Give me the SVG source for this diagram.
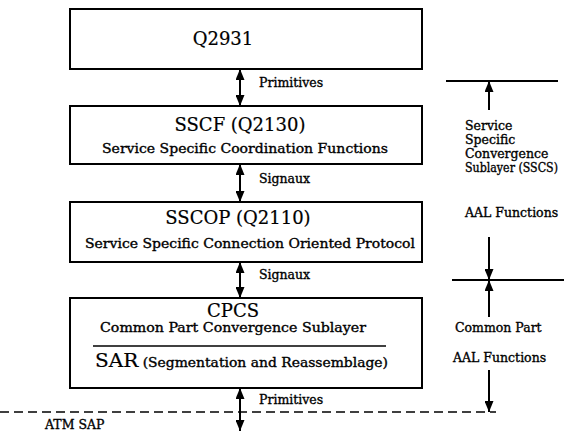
<svg xmlns="http://www.w3.org/2000/svg" width="587" height="431" viewBox="0 0 587 431">
<defs>
<marker id="ah" markerUnits="userSpaceOnUse" markerWidth="11" markerHeight="9" refX="11" refY="4.5" orient="auto-start-reverse">
<path d="M0,0 L11,4.5 L0,9 z" fill="#000"/>
</marker>
<style>
.box{fill:#fff;stroke:#000;stroke-width:2}
.t{font-family:"DejaVu Serif","Liberation Serif",serif;fill:#000}
.big{font-size:18px;stroke:#000;stroke-width:0.2}
.sm{font-size:12.5px;stroke:#000;stroke-width:0.35}
.lb{font-size:12.5px;stroke:#000;stroke-width:0.35}
.ar{stroke:#000;stroke-width:2;fill:none}
.dash{stroke:#000;stroke-width:1.5;stroke-dasharray:9 5;fill:none}
</style>
</defs>
<rect width="587" height="431" fill="#fff"/>

<g id="q2931">
<rect class="box" x="70" y="9" width="352" height="60"/>
<text class="t big" x="223" y="45" text-anchor="middle">Q2931</text>
</g>

<g id="sscf">
<rect class="box" x="70" y="106" width="352" height="58"/>
<text class="t big" x="240" y="131" text-anchor="middle">SSCF (Q2130)</text>
<text class="t sm" x="245" y="153" text-anchor="middle" textLength="286" lengthAdjust="spacingAndGlyphs">Service Specific Coordination Functions</text>
</g>

<g id="sscop">
<rect class="box" x="70" y="202" width="352" height="60"/>
<text class="t big" x="238" y="224" text-anchor="middle">SSCOP (Q2110)</text>
<text class="t sm" x="250" y="248" text-anchor="middle" textLength="330" lengthAdjust="spacingAndGlyphs">Service Specific Connection Oriented Protocol</text>
</g>

<g id="cpcs">
<rect class="box" x="70" y="298" width="352" height="90"/>
<text class="t big" x="233" y="317" text-anchor="middle">CPCS</text>
<text class="t sm" x="233" y="332" text-anchor="middle" textLength="266" lengthAdjust="spacingAndGlyphs">Common Part Convergence Sublayer</text>
<line x1="93" y1="346" x2="386" y2="346" stroke="#000" stroke-width="1.5"/>
<text class="t sm" x="95" y="367" textLength="293" lengthAdjust="spacingAndGlyphs"><tspan font-size="18px" stroke-width="0.2">SAR</tspan> (Segmentation and Reassemblage)</text>
</g>

<g id="connectors">
<line class="ar" x1="240" y1="69" x2="240" y2="106" marker-start="url(#ah)" marker-end="url(#ah)"/>
<line class="ar" x1="240" y1="164" x2="240" y2="202" marker-start="url(#ah)" marker-end="url(#ah)"/>
<line class="ar" x1="240" y1="262" x2="240" y2="298" marker-start="url(#ah)" marker-end="url(#ah)"/>
<line class="ar" x1="240" y1="388" x2="240" y2="431" marker-start="url(#ah)" marker-end="url(#ah)"/>
<line class="dash" x1="0" y1="412" x2="496" y2="412"/>
<line x1="446" y1="81" x2="558" y2="81" stroke="#000" stroke-width="2"/>
<line class="ar" x1="489" y1="110" x2="489" y2="81" marker-end="url(#ah)"/>
<line class="ar" x1="489" y1="237" x2="489" y2="280" marker-end="url(#ah)"/>
<line x1="452" y1="280" x2="564" y2="280" stroke="#000" stroke-width="2"/>
<line class="ar" x1="489" y1="317" x2="489" y2="280" marker-end="url(#ah)"/>
<line class="ar" x1="489" y1="370" x2="489" y2="412" marker-end="url(#ah)"/>
</g>

<g id="labels">
<text class="t lb" x="259" y="87">Primitives</text>
<text class="t lb" x="259" y="183">Signaux</text>
<text class="t lb" x="259" y="279">Signaux</text>
<text class="t lb" x="259" y="404">Primitives</text>
<text class="t lb" x="45" y="429">ATM SAP</text>
<text class="t lb" x="465" y="130">Service</text>
<text class="t lb" x="465" y="144">Specific</text>
<text class="t lb" x="465" y="158">Convergence</text>
<text class="t lb" x="465" y="172" textLength="93" lengthAdjust="spacingAndGlyphs">Sublayer (SSCS)</text>
<text class="t lb" x="465" y="217">AAL Functions</text>
<text class="t lb" x="455" y="332">Common Part</text>
<text class="t lb" x="453" y="362">AAL Functions</text>
</g>
</svg>
